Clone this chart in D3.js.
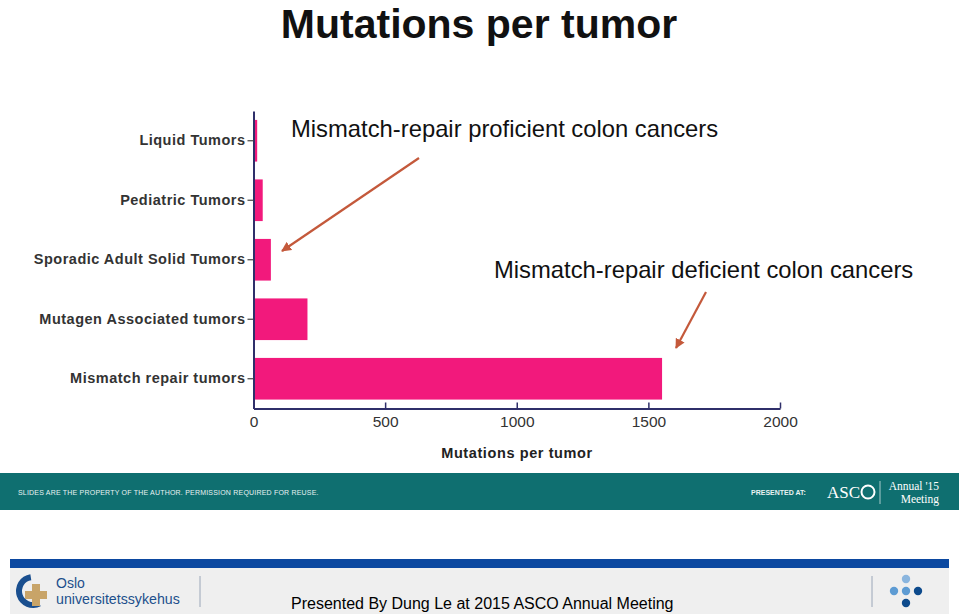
<!DOCTYPE html>
<html><head><meta charset="utf-8">
<script src="https://cdn.jsdelivr.net/npm/d3@7"></script>
<style>html,body{margin:0;padding:0;background:#fff;}svg{display:block;}</style>
</head><body>
<svg id="c" width="959" height="614"></svg>
<script>
const categories = ["Liquid Tumors","Pediatric Tumors","Sporadic Adult Solid Tumors","Mutagen Associated tumors","Mismatch repair tumors"];
const values = [14, 35, 66, 205, 1552];
const xTicks = [0, 500, 1000, 1500, 2000];
const title = "Mutations per tumor";
const xTitle = "Mutations per tumor";
const annotations = ["Mismatch-repair proficient colon cancers","Mismatch-repair deficient colon cancers"];

const svg = d3.select("#c");
const F = "Liberation Sans, Arial, Helvetica, sans-serif";

svg.append("text").attr("x",479).attr("y",37.5).attr("text-anchor","middle")
  .attr("font-family",F).attr("font-weight","bold").attr("font-size",41).attr("fill","#111").text(title);

const x = d3.scaleLinear().domain([0,2000]).range([253.5,780]);
const y = d3.scaleBand().domain(categories).range([111,408.5]).paddingInner(0.3).paddingOuter(0.15);

const g = svg.append("g");
g.selectAll("rect.bar").data(values).join("rect").attr("class","bar")
  .attr("x",x(0)).attr("y",(d,i)=>y(categories[i]))
  .attr("width",d=>x(d)-x(0)).attr("height",y.bandwidth())
  .attr("fill","#f2197c");

const axisColor = "#2f2f6a";
const xa = g.append("g").attr("transform","translate(0,408.5)")
  .call(d3.axisBottom(x).tickValues(xTicks).tickSize(6).tickSizeOuter(0).tickFormat(d3.format("d")));
xa.select(".domain").attr("stroke",axisColor).attr("stroke-width",2);
xa.selectAll(".tick line").attr("stroke",axisColor).attr("stroke-width",1.5).attr("y2",-6).attr("y1",0);
xa.selectAll(".tick text").attr("font-family",F).attr("font-size",15.5).attr("fill","#333").attr("dy","0.75em").attr("y",7);

const ya = g.append("g").attr("transform","translate(253.5,0)")
  .call(d3.axisLeft(y).tickSize(6).tickSizeOuter(0));
ya.select(".domain").attr("stroke",axisColor).attr("stroke-width",2);
ya.selectAll(".tick line").attr("stroke","#444").attr("stroke-width",1.2);
ya.selectAll(".tick text").attr("font-family",F).attr("font-weight","bold").attr("font-size",14.5)
  .attr("letter-spacing",0.5).attr("fill","#333").attr("x",-8);

svg.append("text").attr("x",517).attr("y",458).attr("text-anchor","middle")
  .attr("font-family",F).attr("font-weight","bold").attr("font-size",14.5).attr("letter-spacing",0.6).attr("fill","#222").text(xTitle);

// annotations
svg.append("text").attr("x",291).attr("y",137).attr("font-family",F).attr("font-size",23.8).attr("fill","#111").text(annotations[0]);
svg.append("text").attr("x",494).attr("y",278).attr("font-family",F).attr("font-size",23.8).attr("fill","#111").text(annotations[1]);

const defs = svg.append("defs");
defs.append("marker").attr("id","ah").attr("viewBox","0 0 10 10").attr("refX",9).attr("refY",5)
  .attr("markerWidth",4.5).attr("markerHeight",4.5).attr("orient","auto")
  .append("path").attr("d","M0,0L10,5L0,10z").attr("fill","#c4593b");
svg.append("line").attr("x1",419).attr("y1",158).attr("x2",282).attr("y2",251)
  .attr("stroke","#c4593b").attr("stroke-width",2.2).attr("marker-end","url(#ah)");
svg.append("line").attr("x1",706).attr("y1",292).attr("x2",676).attr("y2",348)
  .attr("stroke","#c4593b").attr("stroke-width",2.2).attr("marker-end","url(#ah)");

// footer teal band
svg.append("rect").attr("x",0).attr("y",473).attr("width",959).attr("height",37).attr("fill","#0f6f70");
svg.append("text").attr("x",18).attr("y",495).attr("font-family",F).attr("font-size",7).attr("fill","#e8f2f2")
  .attr("letter-spacing",0.2).text("SLIDES ARE THE PROPERTY OF THE AUTHOR. PERMISSION REQUIRED FOR REUSE.");
svg.append("text").attr("x",751).attr("y",495).attr("font-family",F).attr("font-weight","bold").attr("font-size",7).attr("fill","#e8f2f2").text("PRESENTED AT:");
svg.append("text").attr("x",827).attr("y",498).attr("font-family","Liberation Serif, Times New Roman, serif").attr("font-size",17).attr("fill","#fff").text("ASC");
svg.append("circle").attr("cx",868).attr("cy",492).attr("r",6.5).attr("fill","none").attr("stroke","#fff").attr("stroke-width",2);
svg.append("line").attr("x1",880).attr("y1",481).attr("x2",880).attr("y2",504).attr("stroke","#cfe3e3").attr("stroke-width",0.8);
svg.append("text").attr("x",939).attr("y",490).attr("text-anchor","end").attr("font-family","Liberation Serif, Times New Roman, serif").attr("font-size",11.5).attr("fill","#fff").text("Annual '15");
svg.append("text").attr("x",939).attr("y",503).attr("text-anchor","end").attr("font-family","Liberation Serif, Times New Roman, serif").attr("font-size",11.5).attr("fill","#fff").text("Meeting");

// bottom strip
svg.append("rect").attr("x",10).attr("y",559).attr("width",939).attr("height",9).attr("fill","#0b48a0");
svg.append("rect").attr("x",10).attr("y",568).attr("width",939).attr("height",46).attr("fill","#efefef");
// Oslo logo
const arc = d3.arc().innerRadius(11).outerRadius(17).startAngle(-Math.PI*0.05).endAngle(-Math.PI*1.15);
svg.append("path").attr("d",arc()).attr("transform","translate(33,591)").attr("fill","#1a4f8f");
svg.append("path").attr("d","M32,584h8v7h7v8h-7v7h-8v-7h-7v-8h7z").attr("fill","#c8a468");
svg.append("text").attr("x",56).attr("y",588).attr("font-family",F).attr("font-size",14).attr("fill","#1d4f8c").text("Oslo");
svg.append("text").attr("x",56).attr("y",604).attr("font-family",F).attr("font-size",14.2).attr("fill","#1d4f8c").text("universitetssykehus");
svg.append("line").attr("x1",200).attr("y1",576).attr("x2",200).attr("y2",607).attr("stroke","#9aa6b8").attr("stroke-width",1);
svg.append("line").attr("x1",872).attr("y1",576).attr("x2",872).attr("y2",607).attr("stroke","#9aa6b8").attr("stroke-width",1);
svg.append("text").attr("x",291).attr("y",609).attr("font-family",F).attr("font-size",16).attr("fill","#000").text("Presented By Dung Le at 2015 ASCO Annual Meeting");
const dots = [[906,579,"#8ab5de"],[894,591,"#5d9bd3"],[906,591,"#5d9bd3"],[918,591,"#0d4a8c"],[906,603,"#0d4a8c"]];
svg.selectAll("circle.dot").data(dots).join("circle").attr("class","dot")
  .attr("cx",d=>d[0]).attr("cy",d=>d[1]).attr("r",4.2).attr("fill",d=>d[2]);
</script>
</body></html>
